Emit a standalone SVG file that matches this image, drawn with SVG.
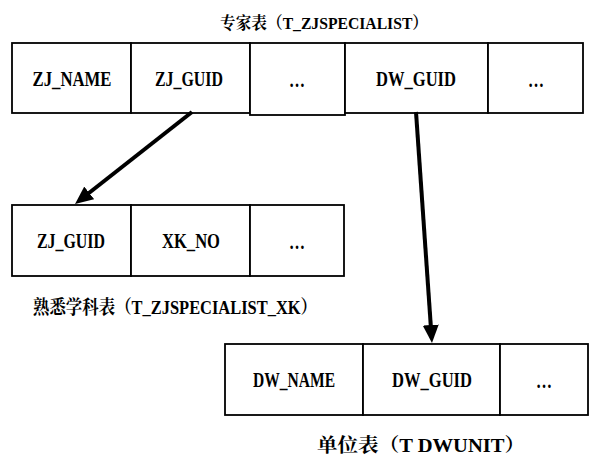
<svg xmlns="http://www.w3.org/2000/svg" width="590" height="457" viewBox="0 0 590 457">
<style>
.cell{fill:#fff;stroke:#000;stroke-width:1.8}
.t{font-family:"Liberation Serif","Times New Roman",serif;font-weight:bold;font-size:20px;fill:#000;text-anchor:middle}
.lbl{font-family:"Liberation Serif","Noto Serif CJK SC","Noto Sans CJK SC",serif;font-weight:bold;fill:#000}
.conn{stroke:#000;stroke-width:4;fill:none}
</style>
<defs>
<marker id="ah" markerUnits="userSpaceOnUse" markerWidth="18" markerHeight="16" refX="8" refY="8" orient="auto">
<path d="M0,0 L18,8 L0,16 z" fill="#000"/>
</marker>
</defs>
<rect width="590" height="457" fill="#fff"/>

<g id="t_zjspecialist">
<text class="lbl" x="220" y="29" font-size="17" textLength="208" lengthAdjust="spacingAndGlyphs">专家表（T_ZJSPECIALIST）</text>
<rect class="cell" x="12" y="43" width="119" height="70"/>
<rect class="cell" x="131" y="43" width="119" height="70"/>
<rect class="cell" x="250" y="43" width="95" height="72"/>
<rect class="cell" x="345" y="43" width="143" height="70"/>
<rect class="cell" x="488" y="43" width="95" height="70"/>
<text class="t" x="72" y="86" textLength="79" lengthAdjust="spacingAndGlyphs">ZJ_NAME</text>
<text class="t" x="189" y="86" textLength="68" lengthAdjust="spacingAndGlyphs">ZJ_GUID</text>
<text class="t" x="297" y="87" textLength="16" lengthAdjust="spacingAndGlyphs">…</text>
<text class="t" x="416" y="86" textLength="80" lengthAdjust="spacingAndGlyphs">DW_GUID</text>
<text class="t" x="536" y="87" textLength="16" lengthAdjust="spacingAndGlyphs">…</text>
</g>

<g id="t_zjspecialist_xk">
<rect class="cell" x="12" y="205" width="119" height="71"/>
<rect class="cell" x="131" y="205" width="119" height="71"/>
<rect class="cell" x="250" y="205" width="94" height="71"/>
<text class="t" x="71" y="248" textLength="68" lengthAdjust="spacingAndGlyphs">ZJ_GUID</text>
<text class="t" x="191" y="248" textLength="58" lengthAdjust="spacingAndGlyphs">XK_NO</text>
<text class="t" x="297" y="249" textLength="16" lengthAdjust="spacingAndGlyphs">…</text>
<text class="lbl" x="33" y="314" font-size="19" textLength="284" lengthAdjust="spacingAndGlyphs">熟悉学科表（T_ZJSPECIALIST_XK）</text>
</g>

<g id="t_dwunit">
<rect class="cell" x="225" y="344" width="138" height="71"/>
<rect class="cell" x="363" y="344" width="137" height="71"/>
<rect class="cell" x="500" y="344" width="88" height="71"/>
<text class="t" x="294" y="387" textLength="82" lengthAdjust="spacingAndGlyphs">DW_NAME</text>
<text class="t" x="432" y="387" textLength="80" lengthAdjust="spacingAndGlyphs">DW_GUID</text>
<text class="t" x="544" y="388" textLength="16" lengthAdjust="spacingAndGlyphs">…</text>
<text class="lbl" x="317" y="452" font-size="19" textLength="208" lengthAdjust="spacingAndGlyphs">单位表（T DWUNIT）</text>
</g>

<g id="connectors">
<line class="conn" x1="192" y1="112" x2="82.9" y2="197.8" marker-end="url(#ah)"/>
<line class="conn" x1="416" y1="112" x2="431.3" y2="333" marker-end="url(#ah)"/>
</g>
</svg>
